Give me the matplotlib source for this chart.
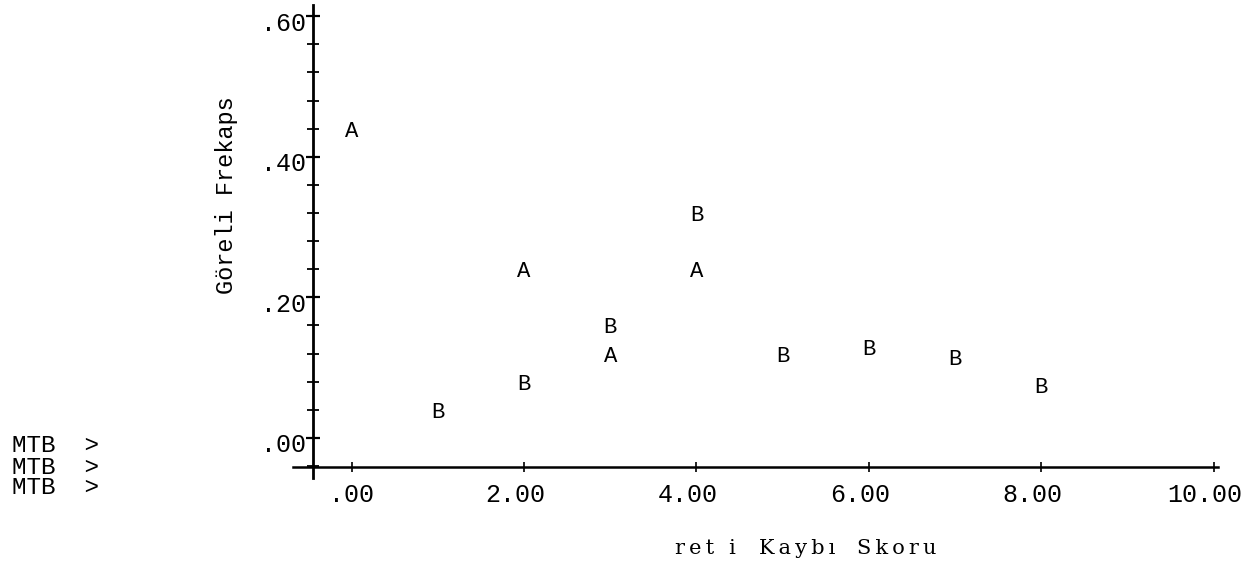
import numpy as np
import matplotlib
matplotlib.use("Agg")
import matplotlib.pyplot as plt
import matplotlib.transforms as mtransforms
from matplotlib.ticker import MultipleLocator, FixedLocator

# skor degerleri ve goreli frekanslar (A ve B gruplari)
xA = [0, 2, 3, 4]
yA = [0.44, 0.24, 0.12, 0.24]
xB = [1, 2, 3, 4, 5, 6, 7, 8]
yB = [0.04, 0.08, 0.16, 0.32, 0.12, 0.13, 0.115, 0.075]

xticks = [0, 2, 4, 6, 8, 10]
xticklabels = [".00", "2.00", "4.00", "6.00", "8.00", "10.00"]
yticks = [0.0, 0.2, 0.4, 0.6]
yticklabels = [".00", ".20", ".40", ".60"]

W, H = 1249, 566
mono = "Liberation Mono"
thin = "\u2009"

fig = plt.figure(figsize=(W / 100, H / 100), dpi=100)
fig.patch.set_facecolor("white")

# axes box in pixel units of the figure
left, right, top, bottom = 293, 1218, 5, 478
ax = fig.add_axes([left / W, 1 - bottom / H, (right - left) / W, (bottom - top) / H])

ax.set_xlim(-0.68, 10.05)
ax.set_ylim(-0.057, 0.616)

for s in ["top", "right"]:
    ax.spines[s].set_visible(False)
ax.spines["left"].set_position(("data", -0.45))
ax.spines["bottom"].set_position(("data", -0.041))
ax.spines["left"].set_linewidth(2.0)
ax.spines["bottom"].set_linewidth(1.8)

ax.xaxis.set_major_locator(FixedLocator(xticks))
ax.set_xticklabels(xticklabels)
ax.yaxis.set_major_locator(FixedLocator(yticks))
ax.set_yticklabels(yticklabels)
ax.yaxis.set_minor_locator(MultipleLocator(0.04))

ax.tick_params(axis="y", which="major", direction="inout", length=10, width=1.6, pad=0)
ax.tick_params(axis="y", which="minor", direction="inout", length=8, width=1.3)
ax.tick_params(axis="x", which="major", direction="inout", length=7, width=1.2, pad=8)
for lab in ax.get_xticklabels() + ax.get_yticklabels():
    lab.set_family(mono)
    lab.set_fontsize(18)

# printer put the x labels a bit left of the ticks, y labels a bit low
shift_x = mtransforms.ScaledTranslation(-9 / 100, 0, fig.dpi_scale_trans)
for lab in ax.get_xticklabels()[1:]:
    lab.set_transform(lab.get_transform() + shift_x)
shift_y = mtransforms.ScaledTranslation(0, -5 / 100, fig.dpi_scale_trans)
for lab in ax.get_yticklabels():
    lab.set_transform(lab.get_transform() + shift_y)

for x, y in zip(xA, yA):
    ax.text(x, y, "A", family=mono, fontsize=16, ha="center", va="center_baseline")
for x, y in zip(xB, yB):
    ax.text(x, y, "B", family=mono, fontsize=16, ha="center", va="center_baseline")

fig.text(227 / W, 1 - 195 / H, "Göreli Frekaps", family=mono, fontsize=17,
         rotation=90, ha="center", va="center")

# eksen basligi (taranmis metin, harf araliklari genis)
for word, cx in [("ret i", 705), ("Kaybı", 797), ("Skoru", 897)]:
    fig.text(cx / W, 1 - 548 / H, thin.join(word),
             family=["DejaVu Serif"], fontsize=15,
             ha="center", va="center")

for yy in [446, 467, 488]:
    fig.text(12 / W, 1 - yy / H, "MTB  >", family=mono, fontsize=17.5,
             ha="left", va="center")

fig.savefig("out.png", dpi=100, facecolor="white")
